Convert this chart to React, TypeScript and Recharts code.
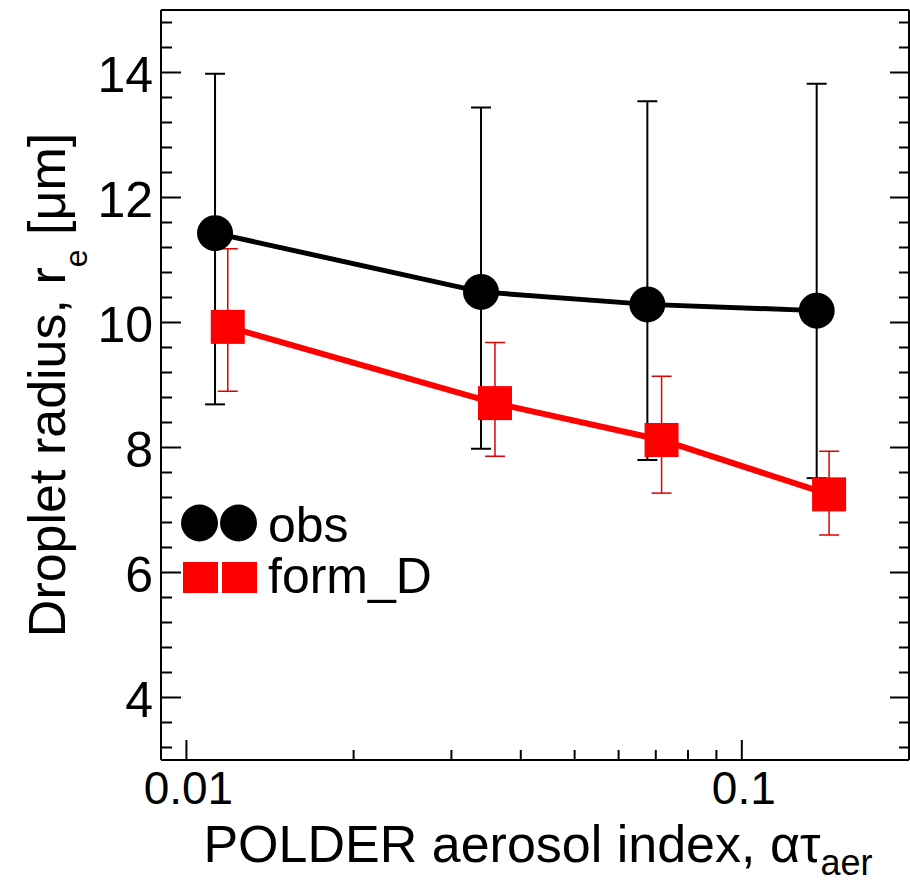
import React from "react";
import {
  ScatterChart,
  Scatter,
  XAxis,
  YAxis,
  ErrorBar,
  Legend,
  Label
} from "recharts";

const FONT = "'Liberation Sans', Arial, Helvetica, sans-serif";

// observed droplet radius (black)
const obsX = [0.01126, 0.03392, 0.0676, 0.1364];
const obsY = [11.43, 10.49, 10.29, 10.19];
const obsLow = [8.69, 7.98, 7.8, 7.51];
const obsHigh = [13.98, 13.44, 13.54, 13.82];

// form_D (red)
const formX = [0.01187, 0.03594, 0.0717, 0.1436];
const formY = [9.93, 8.71, 8.12, 7.25];
const formLow = [8.9, 7.86, 7.27, 6.6];
const formHigh = [11.18, 9.68, 9.14, 7.94];

const xTicks = [0.01, 0.02, 0.03, 0.04, 0.05, 0.06, 0.07, 0.08, 0.09, 0.1];
const xMajor = [0.01, 0.1];
const yTicks = [
  3.2, 3.6, 4, 4.4, 4.8, 5.2, 5.6, 6, 6.4, 6.8, 7.2, 7.6, 8, 8.4, 8.8, 9.2, 9.6, 10,
  10.4, 10.8, 11.2, 11.6, 12, 12.4, 12.8, 13.2, 13.6, 14, 14.4, 14.8
];
const yMajor = [4, 6, 8, 10, 12, 14];

const toRows = (xs: number[], ys: number[], lo: number[], hi: number[]) =>
  xs.map((x, i) => ({ x, y: ys[i], err: [ys[i] - lo[i], hi[i] - ys[i]] }));

const obsData = toRows(obsX, obsY, obsLow, obsHigh);
const formData = toRows(formX, formY, formLow, formHigh);

const isMajor = (list: number[], v: number) => list.some((m) => Math.abs(m - v) < 1e-9);

function LeftTick({ x, y, payload }: any) {
  const major = isMajor(yMajor, payload.value);
  return (
    <g>
      <line x1={x} y1={y} x2={x + (major ? 20 : 11)} y2={y} stroke="#000" strokeWidth={2} />
      {major && (
        <text x={x - 8} y={y + 19} textAnchor="end" fontSize={50} fontFamily={FONT} fill="#000">
          {payload.value}
        </text>
      )}
    </g>
  );
}

function RightTick({ x, y, payload }: any) {
  const major = isMajor(yMajor, payload.value);
  return <line x1={x} y1={y} x2={x - (major ? 19 : 10)} y2={y} stroke="#000" strokeWidth={2} />;
}

function BottomTick({ x, y, payload }: any) {
  const major = isMajor(xMajor, payload.value);
  return (
    <g>
      <line x1={x} y1={y} x2={x} y2={y - (major ? 20 : 10)} stroke="#000" strokeWidth={2} />
      {major && (
        <text x={x + 2} y={y + 44} textAnchor="middle" fontSize={46} fontFamily={FONT} fill="#000">
          {String(payload.value)}
        </text>
      )}
    </g>
  );
}

function TopTick({ x, y, payload }: any) {
  const major = isMajor(xMajor, payload.value);
  return <line x1={x} y1={y} x2={x} y2={y + (major ? 20 : 11)} stroke="#000" strokeWidth={2} />;
}

function LegendBox() {
  return (
    <svg width={320} height={115} style={{ display: "block" }}>
      <circle cx={24.5} cy={28} r={18.5} fill="#000" />
      <circle cx={63.5} cy={28} r={18.5} fill="#000" />
      <text x={93} y={47} fontSize={50} fontFamily={FONT} fill="#000">obs</text>
      <rect x={8} y={67} width={35} height={31} fill="#f00" />
      <rect x={47} y={67} width={35} height={31} fill="#f00" />
      <text x={93} y={98} fontSize={50} fontFamily={FONT} fill="#000">form_D</text>
    </svg>
  );
}

export default function App() {
  return (
    <div style={{ position: "absolute", left: 0, top: 0 }}>
      <ScatterChart
        width={910}
        height={885}
        margin={{ top: 9, right: 0, bottom: 25, left: 61 }}
        style={{ fontFamily: FONT, background: "#fff" }}
      >
        <XAxis
          dataKey="x"
          type="number"
          scale="log"
          domain={[0.009, 0.2]}
          allowDataOverflow
          ticks={xTicks}
          interval={0}
          height={100}
          tickSize={0}
          tickMargin={0}
          tickLine={false}
          tick={(p: any) => <BottomTick {...p} />}
          axisLine={{ stroke: "#000", strokeWidth: 2 }}
        >
          <Label
            content={() => (
              <text x={538} y={862} textAnchor="middle" fontSize={52} fontFamily={FONT} fill="#000">
                POLDER aerosol index, ατ
                <tspan dy={13} fontSize={36}>aer</tspan>
              </text>
            )}
          />
        </XAxis>
        <XAxis
          xAxisId="top"
          orientation="top"
          type="number"
          scale="log"
          domain={[0.009, 0.2]}
          allowDataOverflow
          ticks={xTicks}
          interval={0}
          height={1}
          tickSize={0}
          tickMargin={0}
          tickLine={false}
          tick={(p: any) => <TopTick {...p} />}
          axisLine={{ stroke: "#000", strokeWidth: 2 }}
        />
        <YAxis
          dataKey="y"
          type="number"
          domain={[3, 15]}
          allowDataOverflow
          ticks={yTicks}
          interval={0}
          width={100}
          tickSize={0}
          tickMargin={0}
          tickLine={false}
          tick={(p: any) => <LeftTick {...p} />}
          axisLine={{ stroke: "#000", strokeWidth: 2 }}
        >
          <Label
            content={() => (
              <text
                x={65}
                y={385}
                transform="rotate(-90, 65, 385)"
                textAnchor="middle"
                fontSize={52}
                fontFamily={FONT}
                fill="#000"
              >
                Droplet radius, r
                <tspan dy={22} fontSize={32}>e</tspan>
                <tspan dy={-22}> [μm]</tspan>
              </text>
            )}
          />
        </YAxis>
        <YAxis
          yAxisId="right"
          orientation="right"
          type="number"
          domain={[3, 15]}
          allowDataOverflow
          ticks={yTicks}
          interval={0}
          width={1}
          tickSize={0}
          tickMargin={0}
          tickLine={false}
          tick={(p: any) => <RightTick {...p} />}
          axisLine={{ stroke: "#000", strokeWidth: 2 }}
        />
        <Legend
          layout="vertical"
          align="center"
          verticalAlign="middle"
          wrapperStyle={{ left: 175, top: 495, width: 320 }}
          content={() => <LegendBox />}
        />
        <Scatter
          name="obs"
          data={obsData}
          isAnimationActive={false}
          line={{ stroke: "#000", strokeWidth: 5 }}
          lineType="joint"
          shape={(p: any) => <circle cx={p.cx} cy={p.cy} r={18} fill="#000" />}
        >
          <ErrorBar dataKey="err" direction="y" width={10} stroke="#000" strokeWidth={2} />
        </Scatter>
        <Scatter
          name="form_D"
          data={formData}
          isAnimationActive={false}
          line={{ stroke: "#f00", strokeWidth: 6 }}
          lineType="joint"
          shape={(p: any) => <rect x={p.cx - 17} y={p.cy - 17} width={34} height={34} fill="#f00" />}
        >
          <ErrorBar dataKey="err" direction="y" width={10} stroke="#e00000" strokeWidth={1.5} />
        </Scatter>
      </ScatterChart>
    </div>
  );
}
